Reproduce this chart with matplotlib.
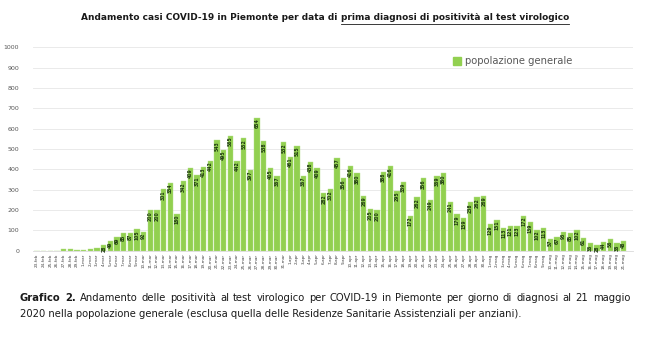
import matplotlib
matplotlib.use("Agg")
import matplotlib.pyplot as plt
from matplotlib.patches import Patch
import datetime as dt

# ---- data ----
start = dt.date(2020, 2, 23)
n_days = 89
mesi = {2: "feb", 3: "mar", 4: "apr", 5: "mag"}
dates = [start + dt.timedelta(days=i) for i in range(n_days)]
labels = [f"{d.day}-{mesi[d.month]}" for d in dates]

values = [0, 0, 0, 0, 10, 10, 4, 3, 7, 13,
          28, 49, 69, 85, 87, 105, 92, 200, 200, 301,
          334, 180, 342, 409, 371, 413, 442, 543, 495, 565,
          442, 552, 397, 654, 538, 405, 367, 532, 461, 515,
          367, 438, 409, 282, 302, 457, 356, 416, 380, 269,
          205, 200, 388, 416, 295, 339, 172, 262, 356, 249,
          369, 380, 241, 179, 159, 238, 262, 269, 129, 151,
          113, 121, 123, 172, 139, 102, 113, 57, 67, 93,
          85, 102, 61, 36, 28, 44, 56, 36, 48]

series_name = "popolazione generale"
yticks = list(range(0, 1001, 100))

green = "#92D050"

fig = plt.figure(figsize=(6.5, 3.46), dpi=100)
ax = fig.add_axes([33/650, 1 - 250.7/346, 600/650, (250.7-47.3)/346])

x = list(range(n_days))
ax.bar(x, values, width=0.76, color=green, edgecolor="#b5e08a", linewidth=0.3, zorder=3)
for xi, v in zip(x, values):
    if v >= 20:
        ax.text(xi, v - 4, str(v), rotation=90, ha="center", va="top",
                fontsize=3.3, color="#1e3a10", fontweight="bold", zorder=4)

ax.set_xlim(-0.6, 89.4)
ax.set_ylim(0, 1000)
ax.set_yticks(yticks)
ax.set_yticklabels([str(t) for t in yticks], fontsize=4.5, color="#595959")
ax.set_xticks(x)
ax.set_xticklabels(labels, rotation=90, fontsize=3.0, color="#404040")
ax.tick_params(axis="both", length=0, pad=2)
ax.tick_params(axis="y", pad=10)
ax.grid(axis="y", color="#e6e6e6", linewidth=0.6, zorder=0)
for s in ["top", "right", "left"]:
    ax.spines[s].set_visible(False)
ax.spines["bottom"].set_color("#d9d9d9")
ax.spines["bottom"].set_linewidth(0.6)

leg = ax.legend(handles=[Patch(color=green, label=series_name)], loc="upper left",
                bbox_to_anchor=(0.685, 1.0), frameon=False, fontsize=7.2,
                handlelength=0.8, handleheight=0.8, handletextpad=0.4)
for t in leg.get_texts():
    t.set_color("#595959")

# ---- title with underlined part ----
fig.canvas.draw()
r = fig.canvas.get_renderer()
W = fig.bbox.width
H = fig.bbox.height
p1 = "Andamento casi COVID-19 in Piemonte per data di "
p2 = "prima diagnosi di positività al test virologico"
ty = 1 - 18/346
t1 = fig.text(0, ty, p1, fontsize=6.5, fontweight="bold", ha="left", va="center", color="#1a1a1a")
t2 = fig.text(0, ty, p2, fontsize=6.5, fontweight="bold", ha="left", va="center", color="#1a1a1a")
b1 = t1.get_window_extent(r)
b2 = t2.get_window_extent(r)
total = b1.width + b2.width
x0 = (W - total) / 2 / W
t1.set_x(x0)
t2.set_x(x0 + b1.width / W)
fig.canvas.draw()
b2 = t2.get_window_extent(r)
uy = (b2.y0 - 1) / H
fig.add_artist(plt.Line2D([b2.x0 / W, b2.x1 / W], [uy, uy], color="#1a1a1a", linewidth=0.6))

# ---- caption (line 1 justified) ----
fs = 7.2
cy1 = 1 - 298/346
cy2 = 1 - 314/346
line1 = [("Grafico", "bold"), ("2.", "bold")] + [(w, "normal") for w in
         "Andamento delle positività al test virologico per COVID-19 in Piemonte per giorno di diagnosi al 21 maggio".split()]
left_px, right_px = 20, 630
word_texts = []
for w, wt in line1:
    t = fig.text(0, cy1, w, fontsize=fs, fontweight=wt, ha="left", va="center", color="#1a1a1a")
    word_texts.append(t)
fig.canvas.draw()
widths = [t.get_window_extent(r).width for t in word_texts]
gap = (right_px - left_px - sum(widths)) / (len(widths) - 1)
cur = left_px
for t, wdt in zip(word_texts, widths):
    t.set_x(cur / W)
    cur += wdt + gap
c2 = "2020 nella popolazione generale (esclusa quella delle Residenze Sanitarie Assistenziali per anziani)."
fig.text(left_px / W, cy2, c2, fontsize=fs, ha="left", va="center", color="#1a1a1a")

fig.savefig("out.png", dpi=100)
